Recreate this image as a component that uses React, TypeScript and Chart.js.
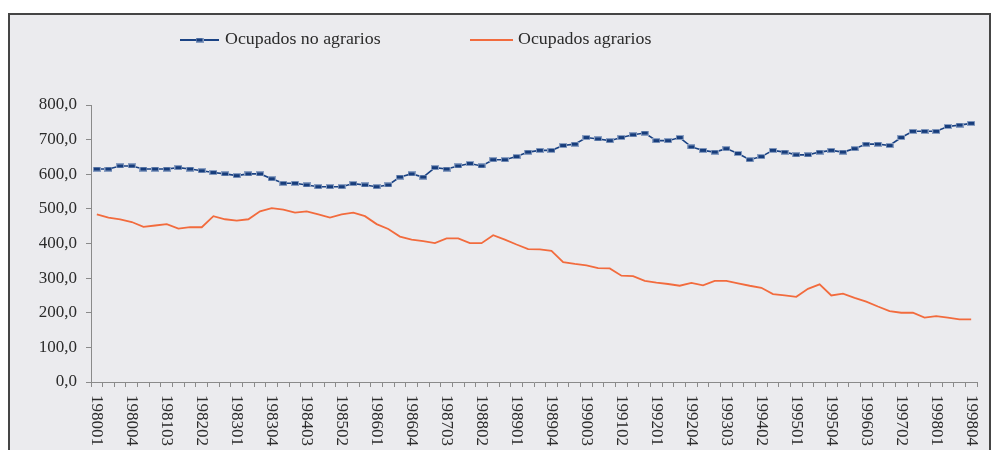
import React, { useEffect, useRef } from 'react';
import { Chart, registerables } from 'chart.js';

Chart.register(...registerables);

const years: number[] = [1980, 1981, 1982, 1983, 1984, 1985, 1986, 1987, 1988, 1989, 1990, 1991, 1992, 1993, 1994, 1995, 1996, 1997, 1998];
const quarters: string[] = ['01', '02', '03', '04'];
const categories: string[] = [];
for (const y of years) for (const q of quarters) categories.push(`${y}${q}`);

const yTicks: number[] = [0, 100, 200, 300, 400, 500, 600, 700, 800];

const ocupadosNoAgrarios: number[] = [
  615, 615, 624, 624, 615, 615, 615, 619, 615, 610,
  605, 601, 596, 601, 601, 587, 574, 574, 569, 564,
  564, 564, 573, 569, 564, 569, 592, 601, 592, 619,
  615, 624, 631, 624, 642, 642, 651, 664, 669, 669,
  683, 687, 706, 702, 697, 706, 714, 719, 697, 697,
  706, 679, 669, 664, 674, 660, 642, 651, 669, 664,
  656, 656, 664, 669, 664, 674, 687, 687, 683, 706,
  724, 724, 724, 738, 742, 747,
];

const ocupadosAgrarios: number[] = [
  484, 475, 470, 462, 448, 452, 456, 443, 447, 447,
  479, 470, 466, 470, 493, 502, 498, 489, 493, 484,
  475, 484, 489, 479, 456, 442, 420, 411, 407, 401,
  415, 415, 401, 401, 424, 411, 397, 384, 383, 379,
  346, 341, 337, 329, 328, 307, 306, 292, 287, 283,
  278, 286, 279, 292, 292, 285, 278, 272, 254, 250,
  246, 269, 282, 250, 255, 243, 232, 218, 205, 200,
  200, 186, 190, 186, 181, 181,
];

const seriesNames: string[] = ['Ocupados no agrarios', 'Ocupados agrarios'];

const BLUE = '#1B4384';
const ORANGE = '#F26B3D';
const TEXT = '#2b2b2b';
const AXIS = '#8a8a8a';
const FONT = '"Liberation Serif", "Times New Roman", serif';

function makeMarker(): HTMLCanvasElement {
  const c = document.createElement('canvas');
  c.width = 8;
  c.height = 5;
  const g = c.getContext('2d')!;
  g.fillStyle = '#8a9fc2';
  g.fillRect(0, 0, 8, 5);
  g.fillStyle = '#173d7c';
  g.fillRect(1, 1, 6, 3);
  return c;
}

export default function App() {
  const ref = useRef<HTMLCanvasElement>(null);

  useEffect(() => {
    if (!ref.current) return;
    const marker = makeMarker();

    const textPlugin = {
      id: 'customText',
      afterDraw(chart: any) {
        const ctx = chart.ctx as CanvasRenderingContext2D;
        const xs = chart.scales.x;
        ctx.save();
        ctx.fillStyle = TEXT;
        ctx.font = `17px ${FONT}`;
        ctx.textAlign = 'left';
        ctx.textBaseline = 'middle';
        categories.forEach((c, i) => {
          if (i % 3 !== 0) return;
          const px = xs.getPixelForValue(i);
          ctx.save();
          ctx.translate(px, xs.top + 13);
          ctx.rotate(Math.PI / 2);
          ctx.fillText(c, 0, 0);
          ctx.restore();
        });

        // legend
        const ly = 40;
        ctx.lineWidth = 2;
        ctx.strokeStyle = BLUE;
        ctx.beginPath();
        ctx.moveTo(180, ly);
        ctx.lineTo(219, ly);
        ctx.stroke();
        ctx.drawImage(marker, 199.5 - marker.width / 2, ly - marker.height / 2);

        ctx.strokeStyle = ORANGE;
        ctx.beginPath();
        ctx.moveTo(470, ly);
        ctx.lineTo(513, ly);
        ctx.stroke();

        ctx.fillStyle = TEXT;
        const drawStretched = (t: string, x: number, y: number, sx: number) => {
          ctx.save();
          ctx.translate(x, y);
          ctx.scale(sx, 1);
          ctx.fillText(t, 0, 0);
          ctx.restore();
        };
        drawStretched(seriesNames[0], 225, ly, 1.05);
        drawStretched(seriesNames[1], 518, ly, 1.05);
        ctx.restore();
      },
    };

    const chart = new Chart(ref.current, {
      type: 'line',
      data: {
        labels: categories,
        datasets: [
          {
            label: seriesNames[0],
            data: ocupadosNoAgrarios,
            borderColor: BLUE,
            backgroundColor: BLUE,
            borderWidth: 1.6,
            pointStyle: marker as any,
            pointRadius: 4,
            tension: 0,
          },
          {
            label: seriesNames[1],
            data: ocupadosAgrarios,
            borderColor: ORANGE,
            backgroundColor: ORANGE,
            borderWidth: 1.8,
            pointRadius: 0,
            tension: 0,
          },
        ],
      },
      options: {
        responsive: false,
        animation: false,
        layout: { padding: { left: 10, right: 17, top: 105, bottom: 0 } },
        plugins: {
          legend: { display: false },
          tooltip: { enabled: false },
          title: { display: false },
        },
        scales: {
          x: {
            type: 'category',
            offset: true,
            grid: {
              display: true,
              drawOnChartArea: false,
              drawTicks: true,
              tickLength: 5,
              color: AXIS,
              offset: true,
            },
            border: { display: true, color: AXIS, width: 1 },
            ticks: { display: false, autoSkip: false },
            afterFit(s: any) {
              s.height = 68;
            },
          },
          y: {
            min: 0,
            max: 800,
            afterBuildTicks(s: any) {
              s.ticks = yTicks.map((v) => ({ value: v }));
            },
            ticks: {
              color: TEXT,
              font: { family: FONT, size: 17 },
              padding: 9,
              callback: (v: any) => Number(v).toFixed(1).replace('.', ','),
            },
            grid: {
              drawOnChartArea: false,
              drawTicks: true,
              tickLength: 5,
              color: AXIS,
            },
            border: { display: true, color: AXIS, width: 1 },
            afterFit(s: any) {
              s.width = 81;
            },
          },
        },
      },
      plugins: [textPlugin],
    });
    return () => chart.destroy();
  }, []);

  return (
    <div style={{ position: 'absolute', left: 0, top: 0, width: 994, height: 450, background: '#fff', overflow: 'hidden' }}>
      <div
        style={{
          position: 'absolute',
          left: 8,
          top: 13,
          width: 983,
          height: 460,
          border: '2px solid #454545',
          background: '#EBEBEE',
          boxSizing: 'border-box',
        }}
      />
      <canvas ref={ref} width={994} height={450} style={{ position: 'absolute', left: 0, top: 0, width: 994, height: 450 }} />
    </div>
  );
}
